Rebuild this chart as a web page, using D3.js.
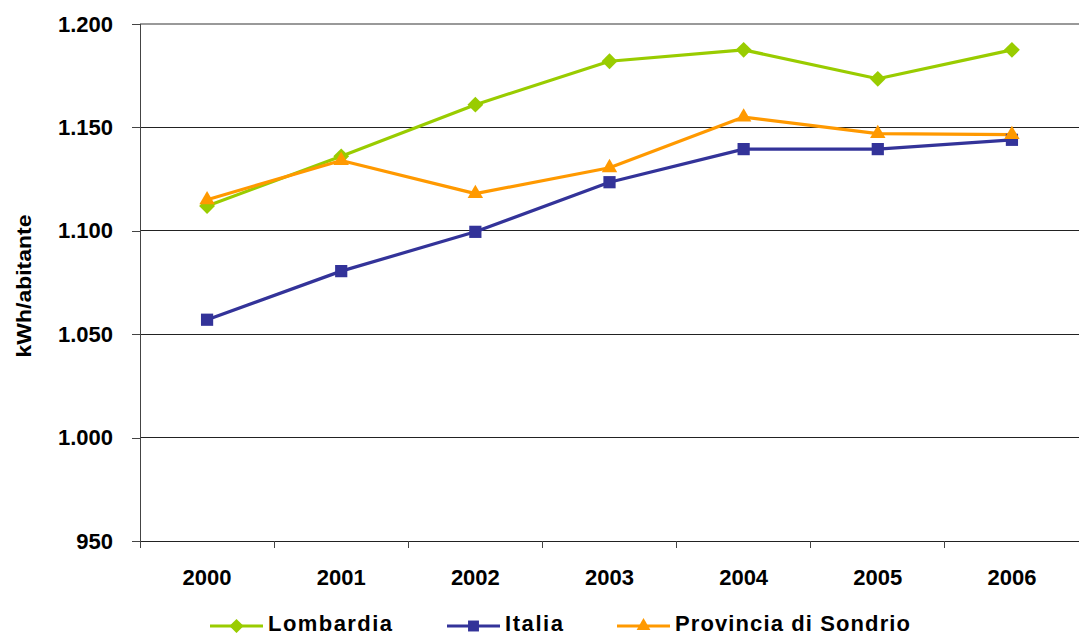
<!DOCTYPE html>
<html>
<head>
<meta charset="utf-8">
<script src="https://cdn.jsdelivr.net/npm/d3@7"></script>
<style>
  html, body { margin: 0; padding: 0; background: #fff; }
  svg { display: block; font-family: "Liberation Sans", Arial, sans-serif; }
</style>
</head>
<body>
<svg id="chart" width="1079" height="633"></svg>
<script>
// Consumo elettrico pro capite (kWh/abitante), 2000-2006
const years = ["2000", "2001", "2002", "2003", "2004", "2005", "2006"];
const lombardia = [1112, 1136, 1161, 1182, 1187.5, 1173.5, 1187.5];
const italia = [1057, 1080.5, 1099.5, 1123.5, 1139.5, 1139.5, 1144];
const sondrio = [1115, 1134, 1118, 1130.5, 1155, 1147, 1146.5];
const yTicks = [950, 1000, 1050, 1100, 1150, 1200];
const yTickLabels = ["950", "1.000", "1.050", "1.100", "1.150", "1.200"];

const series = [
  { name: "Lombardia", values: lombardia, color: "#99CC00", symbol: d3.symbolDiamond2, size: 160, legendX: 210, textLen: 124 },
  { name: "Italia", values: italia, color: "#333399", symbol: d3.symbolSquare2, size: 190, legendX: 447, textLen: 58 },
  { name: "Provincia di Sondrio", values: sondrio, color: "#FF9900", symbol: d3.symbolTriangle2, size: 170, legendX: 617, textLen: 235 }
];

const svg = d3.select("#chart");
const plot = { left: 140, right: 1079, top: 24, bottom: 541 };

const x = d3.scaleBand().domain(years).range([plot.left, plot.right]);
const y = d3.scaleLinear().domain([950, 1200]).range([plot.bottom, plot.top]);

// horizontal gridlines
svg.append("g")
  .selectAll("line")
  .data(yTicks.filter(v => v > 950))
  .join("line")
  .attr("x1", plot.left).attr("x2", plot.right)
  .attr("y1", d => y(d)).attr("y2", d => y(d))
  .attr("stroke", d => d === 1200 ? "#999" : "#222")
  .attr("stroke-width", d => d === 1200 ? 1.5 : 1)
  .attr("shape-rendering", "crispEdges");

// y axis
const yAxis = d3.axisLeft(y)
  .tickValues(yTicks)
  .tickFormat((d, i) => yTickLabels[i])
  .tickSize(8)
  .tickPadding(19);
const gy = svg.append("g").attr("transform", `translate(${plot.left},0)`).call(yAxis);
gy.select(".domain").attr("stroke", "#444").attr("shape-rendering", "crispEdges");
gy.selectAll(".tick line").attr("stroke", "#444").attr("shape-rendering", "crispEdges");
gy.selectAll("text")
  .attr("font-size", 22).attr("font-weight", "bold").attr("fill", "#000")
  .attr("font-family", "'Liberation Sans', Arial, sans-serif");

// x axis: ticks on category boundaries
svg.append("line")
  .attr("x1", plot.left).attr("x2", plot.right)
  .attr("y1", plot.bottom).attr("y2", plot.bottom)
  .attr("stroke", "#222").attr("shape-rendering", "crispEdges");
svg.append("g")
  .selectAll("line")
  .data(years.concat(["end"]))
  .join("line")
  .attr("x1", (d, i) => plot.left + i * x.bandwidth())
  .attr("x2", (d, i) => plot.left + i * x.bandwidth())
  .attr("y1", plot.bottom).attr("y2", plot.bottom + 7)
  .attr("stroke", "#444").attr("shape-rendering", "crispEdges");
svg.append("g")
  .selectAll("text")
  .data(years)
  .join("text")
  .attr("x", d => x(d) + x.bandwidth() / 2)
  .attr("y", 585)
  .attr("text-anchor", "middle")
  .attr("font-size", 22).attr("font-weight", "bold")
  .text(d => d);

// y axis title
svg.append("text")
  .attr("transform", "translate(31,286) rotate(-90)")
  .attr("text-anchor", "middle")
  .attr("font-size", 21).attr("font-weight", "bold")
  .attr("textLength", 143).attr("lengthAdjust", "spacingAndGlyphs")
  .text("kWh/abitante");

// lines and markers
const cx = i => x(years[i]) + x.bandwidth() / 2;
const line = d3.line().x((d, i) => cx(i)).y(d => y(d));

series.forEach(s => {
  svg.append("path")
    .datum(s.values)
    .attr("d", line)
    .attr("fill", "none")
    .attr("stroke", s.color)
    .attr("stroke-width", 3.2)
    .attr("stroke-linejoin", "round");
});
series.forEach(s => {
  svg.append("g")
    .selectAll("path")
    .data(s.values)
    .join("path")
    .attr("d", d3.symbol().type(s.symbol).size(s.size))
    .attr("transform", (d, i) => `translate(${cx(i)},${y(d)})`)
    .attr("fill", s.color);
});

// legend
const legendY = 626;
series.forEach(s => {
  const g = svg.append("g").attr("transform", `translate(${s.legendX},${legendY})`);
  g.append("line").attr("x1", 0).attr("x2", 53).attr("y1", 0).attr("y2", 0)
    .attr("stroke", s.color).attr("stroke-width", 3.2);
  g.append("path")
    .attr("d", d3.symbol().type(s.symbol).size(s.size * 0.8))
    .attr("transform", "translate(26.5,0)")
    .attr("fill", s.color);
  g.append("text")
    .attr("x", 58).attr("y", 5)
    .attr("font-size", 22).attr("font-weight", "bold")
    .attr("textLength", s.textLen).attr("lengthAdjust", "spacing")
    .text(s.name);
});
</script>
</body>
</html>
